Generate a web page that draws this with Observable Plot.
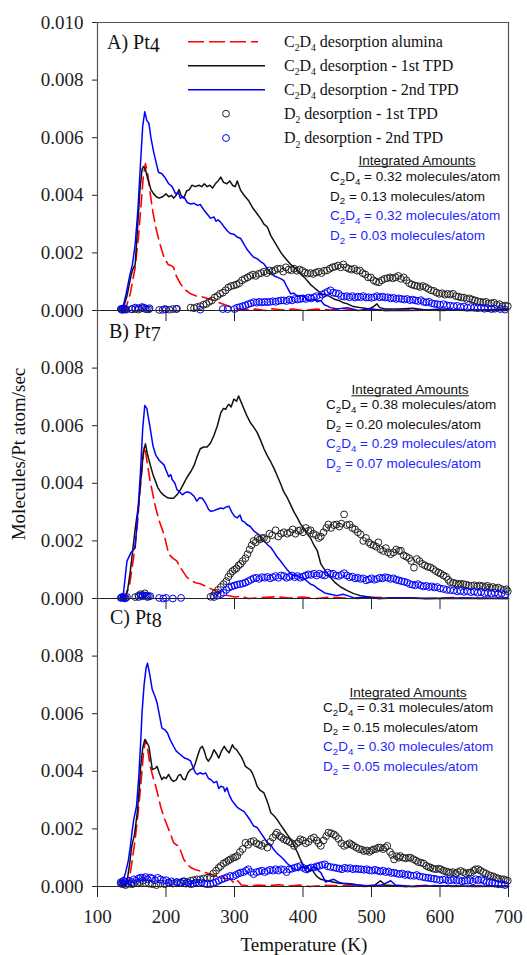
<!DOCTYPE html>
<html><head><meta charset="utf-8">
<script src="https://cdn.jsdelivr.net/npm/d3@7"></script>
<script src="https://cdn.jsdelivr.net/npm/@observablehq/plot@0.6"></script>
<style>
html,body{margin:0;padding:0;background:#fff;}
#chart{position:relative;width:527px;height:955px;overflow:hidden;background:#fff;}
#chart svg{position:absolute;left:0;top:0;}
</style></head><body><div id="chart"></div>
<script>
// ---------------- DATA (values in units of 0.001 molecules/Pt atom/sec) ----------------
const xTickValues = [100, 200, 300, 400, 500, 600, 700];
const yTicksA = [0, 0.002, 0.004, 0.006, 0.008, 0.010];
const yTicksBC = [0, 0.002, 0.004, 0.006, 0.008];
const panelNames = ["A) Pt", "B) Pt", "C) Pt"];
const panelSubs = ["4", "7", "8"];
const legendLabels = ["C_2D_4 desorption alumina", "C_2D_4 desorption - 1st TPD", "C_2D_4 desorption - 2nd TPD", "D_2 desorption - 1st TPD", "D_2 desorption - 2nd TPD"];
const intTitle = "Integrated Amounts";
const intSpecies = ["C_2D_4", "D_2", "C_2D_4", "D_2"];
const intA = ["0.32", "0.13", "0.32", "0.03"];
const intB = ["0.38", "0.20", "0.29", "0.07"];
const intC = ["0.31", "0.15", "0.30", "0.05"];

// Panel A
const A_red_e3 = [[135,0],[141,0.05],[148,0.6],[155,1.5],[160,2.6],[164,3.8],[167,4.7],[170,5.1],[173,4.8],[177,4.05],[181,3.4],[185,2.9],[190,2.4],[197,1.85],[203,1.6],[208,1.55],[211,1.5],[215,1.2],[221,0.93],[228,0.72],[236,0.58],[245,0.5],[255,0.46],[262,0.4],[270,0.35],[280,0.25],[289,0.17],[300,0.08],[315,0.03],[330,0.05],[345,0.0],[355,0.06],[370,0.02],[385,0.05],[400,0.0],[420,0.05],[440,0.02],[460,0.06],[480,0.0],[500,0.04],[520,0.0],[560,0.03],[600,0.0],[640,0.02],[680,0.0],[700,0.03]];
const A_blackLine_e3 = [[133,0],[138,0.1],[143,0.5],[148,1.1],[151,1.4],[155,1.6],[158,2.7],[162,4.2],[165,4.9],[167,5.0],[170,4.9],[173,4.6],[175,4.45],[178,4.2],[182,4.05],[186,3.95],[190,3.9],[195,3.95],[200,4.05],[204,3.95],[208,4.0],[211,3.9],[215,4.0],[219,4.2],[222,4.0],[226,3.9],[230,4.15],[234,4.2],[238,4.35],[243,4.3],[248,4.35],[252,4.3],[256,4.4],[260,4.3],[264,4.35],[268,4.25],[272,4.4],[276,4.5],[280,4.63],[284,4.45],[289,4.4],[293,4.5],[297,4.35],[301,4.3],[304,4.5],[307,4.3],[309,4.17],[314,4.0],[321,3.8],[327,3.55],[333,3.36],[338,3.2],[343,3.0],[348,2.9],[353,2.6],[358,2.4],[363,2.2],[368,2.0],[373,1.85],[377,1.74],[382,1.6],[387,1.5],[392,1.4],[397,1.25],[402,1.15],[406,1.04],[411,0.9],[416,0.8],[421,0.7],[426,0.58],[432,0.55],[438,0.5],[445,0.4],[452,0.35],[458,0.28],[465,0.23],[472,0.15],[478,0.12],[484,0.1],[490,0.08],[496,0.05],[502,0.12],[508,0.23],[512,0.1],[520,0.05],[540,0.05],[560,0.08],[580,0.02],[600,0.05],[640,0.0],[700,0.05]];
const A_blueLine_e3 = [[133,0],[137,0.1],[142,0.6],[147,1.2],[151,1.6],[155,2.3],[159,3.5],[163,5.2],[166,6.4],[169,6.9],[172,6.6],[175,6.5],[178,6.0],[182,5.5],[186,5.1],[189,4.8],[194,4.75],[199,4.6],[204,4.4],[209,4.3],[214,4.05],[218,4.1],[221,3.9],[226,3.95],[231,3.75],[236,3.7],[241,3.72],[246,3.65],[250,3.68],[255,3.5],[260,3.35],[265,3.2],[270,3.25],[273,3.1],[276,3.15],[280,3.06],[285,2.9],[290,2.75],[294,2.67],[299,2.65],[304,2.55],[309,2.5],[314,2.3],[319,2.1],[324,1.95],[328,1.85],[333,1.8],[338,1.7],[343,1.62],[348,1.45],[353,1.33],[358,1.2],[363,1.15],[368,1.1],[372,1.04],[377,0.8],[382,0.58],[387,0.6],[392,0.5],[396,0.52],[401,0.5],[406,0.38],[411,0.35],[416,0.4],[421,0.3],[426,0.35],[431,0.2],[436,0.15],[440,0.1],[450,0.05],[465,0.1],[480,0.0],[500,0.05],[520,0.0],[550,0.0],[600,0.02],[650,0.0],[700,0.0]];
const A_blackDots_e3 = [[135,0.05],[137,0.05],[139,0.03],[141,0.05],[150,0.04],[155,0.05],[160,0.03],[165,0.08],[170,0.05],[175,0.04],[190,0.02],[198,0.05],[205,0.03],[210,0.05],[216,0.06],[236,0.1],[241,0.08],[245,0.12],[250,0.15],[255,0.2],[259,0.23],[263,0.3],[267,0.35],[271,0.45],[275,0.5],[279,0.58],[283,0.62],[287,0.7],[291,0.8],[295,0.85],[299,0.87],[303,0.9],[307,0.95],[311,1.05],[315,1.1],[319,1.15],[323,1.2],[327,1.25],[331,1.2],[335,1.27],[339,1.3],[343,1.35],[347,1.3],[351,1.39],[355,1.35],[359,1.4],[363,1.45],[367,1.45],[371,1.35],[375,1.5],[379,1.42],[383,1.4],[387,1.45],[391,1.38],[395,1.42],[399,1.38],[403,1.32],[407,1.28],[411,1.3],[415,1.27],[419,1.32],[423,1.35],[427,1.3],[431,1.38],[435,1.39],[439,1.45],[443,1.5],[447,1.52],[451,1.56],[455,1.5],[459,1.6],[463,1.5],[467,1.45],[471,1.42],[475,1.45],[479,1.38],[483,1.39],[487,1.3],[491,1.25],[495,1.15],[499,1.15],[503,1.05],[507,1.0],[511,0.98],[515,1.05],[519,1.1],[523,1.12],[527,1.15],[531,1.12],[535,1.15],[539,1.2],[543,1.1],[547,1.15],[551,1.05],[555,0.95],[559,0.9],[563,0.87],[567,0.85],[571,0.82],[575,0.85],[579,0.81],[583,0.75],[587,0.7],[591,0.68],[595,0.62],[599,0.58],[603,0.6],[607,0.55],[611,0.58],[615,0.55],[619,0.58],[623,0.5],[627,0.48],[631,0.45],[635,0.45],[639,0.4],[643,0.42],[647,0.38],[651,0.35],[655,0.32],[659,0.3],[663,0.28],[667,0.3],[671,0.25],[675,0.25],[679,0.27],[683,0.2],[687,0.22],[691,0.15],[695,0.17],[699,0.15]];
const A_blueDots_e3 = [[134,0.05],[136,0.02],[138,0.08],[140,0.05],[142,0.03],[150,0.05],[155,0.1],[160,0.08],[165,0.12],[168,0.1],[172,0.05],[176,0.08],[195,0.02],[200,0.04],[215,0.05],[250,0.03],[283,0.05],[290,0.05],[300,0.05],[304,0.1],[308,0.12],[312,0.15],[316,0.18],[320,0.22],[324,0.25],[328,0.29],[332,0.27],[336,0.3],[340,0.28],[344,0.3],[348,0.29],[352,0.3],[356,0.32],[360,0.3],[364,0.33],[368,0.35],[372,0.35],[376,0.33],[380,0.38],[384,0.35],[388,0.4],[392,0.38],[396,0.4],[400,0.42],[404,0.4],[408,0.45],[412,0.42],[416,0.46],[420,0.5],[424,0.45],[428,0.55],[432,0.6],[436,0.65],[440,0.7],[444,0.62],[448,0.6],[452,0.58],[456,0.5],[460,0.48],[464,0.5],[468,0.46],[472,0.5],[476,0.45],[480,0.48],[484,0.46],[488,0.5],[492,0.45],[496,0.46],[500,0.44],[504,0.46],[508,0.5],[512,0.46],[516,0.48],[520,0.45],[524,0.46],[528,0.42],[532,0.44],[536,0.4],[540,0.42],[544,0.4],[548,0.38],[552,0.4],[556,0.36],[560,0.38],[564,0.35],[568,0.33],[572,0.36],[576,0.3],[580,0.28],[584,0.3],[588,0.25],[592,0.23],[596,0.22],[600,0.2],[605,0.22],[610,0.18],[615,0.17],[620,0.15],[625,0.16],[630,0.12],[635,0.14],[640,0.1],[645,0.12],[650,0.1],[655,0.08],[660,0.1],[665,0.06],[670,0.08],[675,0.05],[680,0.06],[688,0.05],[695,0.03]];

// Panel B
const B_red_e3 = [[135,0],[141,0.05],[147,0.5],[153,1.47],[158,2.5],[163,4.0],[167,5.0],[169,5.3],[172,4.8],[177,4.05],[181,3.6],[185,3.14],[190,2.7],[197,2.23],[204,1.54],[210,1.4],[216,1.3],[220,1.1],[224,0.97],[230,0.75],[236,0.63],[243,0.55],[250,0.51],[260,0.4],[270,0.29],[280,0.2],[289,0.11],[300,0.05],[310,0.08],[320,0.0],[340,0.03],[360,0.06],[380,0.02],[400,0.05],[420,0.0],[440,0.05],[460,0.02],[480,0.0],[500,0.04],[540,0.02],[580,0.0],[620,0.03],[660,0.0],[700,0.02]];
const B_blackLine_e3 = [[135,0],[140,0.05],[144,0.3],[148,0.96],[152,1.8],[156,2.6],[160,3.26],[164,4.3],[167,5.1],[170,5.37],[173,5.0],[177,4.64],[181,4.3],[185,4.05],[188,3.85],[192,3.7],[197,3.58],[202,3.5],[206,3.48],[211,3.48],[216,3.6],[221,3.77],[226,4.0],[231,4.22],[236,4.4],[241,4.62],[245,4.9],[250,5.2],[255,5.26],[260,5.26],[265,5.4],[270,5.66],[275,6.0],[280,6.45],[284,6.6],[287,6.57],[290,6.7],[292,6.74],[295,6.65],[299,6.92],[303,6.85],[306,7.03],[310,6.8],[314,6.57],[318,6.35],[323,6.11],[328,5.95],[333,5.77],[338,5.5],[343,5.2],[348,4.95],[353,4.74],[358,4.5],[362,4.28],[367,4.0],[372,3.7],[377,3.5],[382,3.25],[387,3.0],[392,2.79],[396,2.6],[401,2.45],[406,2.25],[411,2.1],[416,1.85],[421,1.65],[426,1.2],[433,0.95],[440,0.74],[447,0.55],[455,0.4],[464,0.28],[474,0.17],[484,0.1],[494,0.06],[510,0.0],[540,0.02],[580,0.0],[700,0.0]];
const B_blueLine_e3 = [[133,0],[138,0.2],[143,1.3],[149,1.6],[155,1.76],[159,3.0],[163,4.5],[166,5.9],[169,6.7],[172,6.6],[177,5.9],[181,5.3],[185,4.98],[190,4.8],[197,4.64],[201,4.4],[204,4.23],[207,4.3],[209,4.13],[213,4.0],[216,3.78],[220,3.7],[224,3.6],[228,3.68],[232,3.7],[236,3.66],[241,3.55],[245,3.38],[249,3.5],[253,3.48],[258,3.3],[262,3.1],[265,3.03],[270,3.05],[275,3.1],[280,3.14],[284,3.12],[288,3.18],[292,3.2],[296,3.0],[300,2.85],[304,2.8],[308,2.9],[311,2.7],[315,2.65],[318,2.57],[323,2.5],[328,2.35],[335,2.23],[340,2.05],[345,1.95],[349,1.85],[353,1.77],[358,1.6],[362,1.45],[367,1.31],[372,1.15],[377,1.0],[382,0.86],[387,0.8],[392,0.78],[396,0.74],[401,0.7],[406,0.6],[411,0.5],[416,0.45],[421,0.35],[426,0.28],[431,0.2],[435,0.17],[440,0.15],[450,0.1],[458,0.15],[465,0.1],[475,0.02],[490,0.05],[510,0.0],[540,0.03],[580,0.0],[640,0.02],[700,0.0]];
const B_blackDots_e3 = [[135,0.03],[138,0.05],[141,0.02],[155,0.05],[160,0.1],[163,0.15],[166,0.12],[169,0.18],[172,0.1],[175,0.08],[265,0.06],[269,0.1],[272,0.2],[276,0.3],[280,0.4],[284,0.5],[288,0.6],[291,0.75],[294,0.86],[297,0.95],[300,1.0],[303,1.05],[306,1.15],[309,1.2],[312,1.3],[316,1.4],[319,1.54],[322,1.7],[325,1.85],[328,2.0],[331,1.95],[334,2.1],[337,2.05],[340,2.1],[343,2.1],[347,2.05],[351,2.25],[355,2.2],[360,2.37],[364,2.15],[368,2.25],[372,2.3],[377,2.25],[381,2.3],[385,2.4],[389,2.25],[393,2.35],[396,2.37],[400,2.3],[404,2.45],[408,2.35],[411,2.37],[415,2.25],[419,2.2],[423,2.1],[426,2.15],[430,2.3],[434,2.45],[437,2.57],[441,2.45],[445,2.55],[449,2.57],[453,2.5],[456,2.6],[460,2.92],[464,2.55],[468,2.57],[472,2.45],[476,2.4],[480,2.3],[484,2.23],[488,2.0],[492,2.1],[496,1.95],[499,1.88],[503,1.85],[507,1.8],[510,1.95],[513,1.71],[517,1.65],[521,1.75],[524,1.6],[528,1.54],[532,1.6],[536,1.7],[540,1.65],[543,1.66],[547,1.5],[551,1.45],[555,1.4],[558,1.3],[562,1.07],[566,1.37],[570,1.3],[574,1.2],[578,1.15],[582,1.1],[586,1.08],[590,1.02],[594,0.95],[598,0.9],[601,0.86],[605,0.8],[609,0.75],[612,0.65],[615,0.57],[619,0.55],[623,0.52],[627,0.5],[630,0.51],[634,0.5],[638,0.48],[642,0.45],[646,0.44],[650,0.46],[654,0.42],[658,0.45],[662,0.43],[666,0.4],[669,0.44],[673,0.38],[677,0.4],[681,0.35],[685,0.38],[689,0.33],[693,0.3],[697,0.32],[699,0.25]];
const B_blueDots_e3 = [[134,0.02],[136,0.05],[138,0.03],[140,0.0],[143,0.05],[160,0.05],[163,0.1],[166,0.08],[170,0.1],[173,0.05],[177,0.08],[190,0.02],[196,0.0],[200,0.02],[210,0.0],[222,0.02],[270,0.05],[275,0.1],[280,0.15],[284,0.2],[288,0.3],[292,0.38],[296,0.42],[300,0.45],[304,0.48],[308,0.5],[312,0.52],[316,0.55],[320,0.6],[324,0.65],[328,0.7],[332,0.72],[336,0.68],[340,0.74],[344,0.72],[348,0.75],[352,0.7],[356,0.74],[360,0.78],[364,0.72],[368,0.8],[372,0.78],[376,0.72],[380,0.75],[384,0.8],[388,0.74],[392,0.78],[396,0.72],[400,0.76],[404,0.8],[408,0.84],[412,0.82],[416,0.86],[420,0.8],[424,0.86],[428,0.82],[432,0.8],[436,0.9],[440,0.85],[444,0.86],[448,0.8],[452,0.78],[456,0.82],[460,0.88],[464,0.8],[468,0.74],[472,0.76],[476,0.7],[480,0.72],[484,0.68],[488,0.7],[492,0.63],[496,0.66],[500,0.7],[504,0.65],[508,0.68],[512,0.72],[516,0.7],[520,0.74],[524,0.72],[528,0.68],[532,0.7],[536,0.65],[540,0.63],[544,0.6],[548,0.58],[552,0.55],[556,0.5],[560,0.48],[564,0.46],[568,0.5],[572,0.45],[576,0.42],[580,0.44],[584,0.4],[588,0.42],[592,0.38],[596,0.4],[600,0.35],[605,0.33],[610,0.3],[615,0.29],[620,0.28],[625,0.25],[630,0.26],[635,0.23],[640,0.25],[645,0.22],[650,0.24],[655,0.2],[660,0.22],[665,0.18],[670,0.2],[675,0.17],[680,0.2],[685,0.16],[690,0.18],[695,0.14]];

// Panel C
const C_red_e3 = [[135,0],[141,0.05],[146,0.2],[150,0.8],[155,1.64],[159,2.5],[163,3.48],[167,4.6],[170,5.1],[173,4.8],[177,4.17],[181,3.8],[185,3.48],[189,3.1],[192,2.79],[197,2.4],[202,2.1],[207,1.8],[211,1.52],[215,1.45],[219,1.4],[222,1.2],[226,0.94],[231,0.78],[236,0.66],[243,0.58],[250,0.54],[258,0.48],[265,0.43],[272,0.38],[280,0.31],[287,0.28],[294,0.25],[300,0.1],[305,0.2],[310,0.05],[320,0.02],[335,0.05],[350,0.03],[365,0.06],[380,0.02],[395,0.05],[410,0.0],[430,0.04],[450,0.02],[470,0.05],[490,0.0],[510,0.03],[550,0.0],[580,0.04],[620,0.0],[660,0.03],[700,0.0]];
const C_blackLine_e3 = [[133,0],[138,0.05],[143,0.14],[147,0.8],[150,1.4],[154,1.8],[158,2.56],[161,3.4],[163,4.17],[166,4.8],[169,5.1],[172,5.0],[175,4.87],[178,4.4],[180,4.06],[184,4.1],[187,4.17],[190,3.95],[194,3.71],[197,3.8],[200,3.75],[204,3.89],[208,3.7],[211,3.65],[215,3.7],[218,3.85],[221,3.89],[225,3.72],[228,3.71],[232,3.95],[236,4.06],[240,4.1],[243,4.29],[247,4.6],[250,4.8],[253,4.87],[256,4.7],[259,4.45],[262,4.35],[266,4.5],[270,4.75],[274,4.6],[277,4.46],[281,4.7],[285,4.87],[288,4.75],[292,4.64],[295,4.8],[297,4.92],[300,4.8],[303,4.75],[306,4.64],[310,4.5],[313,4.35],[316,4.17],[320,4.1],[323,4.05],[326,3.94],[330,3.7],[333,3.48],[337,3.35],[340,3.3],[343,3.25],[347,3.0],[350,2.8],[353,2.56],[358,2.45],[362,2.33],[367,2.15],[372,1.98],[377,1.8],[382,1.64],[387,1.4],[392,1.18],[396,0.95],[401,0.71],[404,0.6],[406,0.7],[409,0.55],[413,0.6],[416,0.48],[420,0.35],[426,0.25],[435,0.2],[445,0.15],[455,0.1],[465,0.1],[474,0.08],[490,0.02],[505,0.05],[513,0.2],[520,0.05],[550,0.0],[600,0.02],[700,0.0]];
const C_blueLine_e3 = [[133,0],[137,0.2],[141,0.48],[145,0.9],[148,1.4],[151,2.0],[153,2.33],[157,2.8],[160,3.71],[163,5.0],[165,6.03],[168,7.0],[171,7.6],[173,7.75],[176,7.4],[180,6.83],[184,6.6],[187,6.37],[190,6.0],[194,5.5],[198,5.45],[202,5.34],[206,5.1],[211,4.87],[215,4.7],[220,4.6],[224,4.52],[228,4.45],[232,4.42],[236,4.35],[240,4.1],[243,3.95],[246,3.89],[250,3.95],[254,3.9],[258,3.94],[262,3.75],[266,3.7],[270,3.6],[274,3.65],[277,3.4],[280,3.48],[284,3.45],[286,3.3],[289,3.43],[292,3.2],[296,3.0],[299,2.9],[304,2.75],[309,2.67],[314,2.6],[319,2.44],[323,2.3],[328,2.1],[333,2.05],[338,1.87],[343,1.7],[348,1.52],[353,1.45],[357,1.29],[362,1.15],[367,1.05],[372,0.94],[377,0.8],[382,0.7],[387,0.6],[393,0.55],[399,0.71],[403,0.6],[406,0.48],[411,0.6],[416,0.71],[420,0.6],[426,0.48],[430,0.3],[433,0.15],[438,0.2],[445,0.25],[452,0.15],[460,0.1],[469,0.08],[480,0.05],[500,0.02],[515,0.05],[528,0.2],[535,0.05],[560,0.0],[600,0.03],[650,0.0],[700,0.02]];
const C_blackDots_e3 = [[134,0.1],[136,0.15],[138,0.08],[141,0.05],[145,0.1],[150,0.08],[153,0.1],[158,0.12],[162,0.15],[166,0.2],[170,0.12],[175,0.1],[180,0.08],[186,0.05],[192,0.1],[198,0.08],[204,0.12],[210,0.1],[216,0.15],[222,0.12],[227,0.18],[231,0.15],[236,0.2],[240,0.22],[245,0.25],[250,0.25],[255,0.28],[260,0.3],[265,0.31],[269,0.45],[273,0.55],[277,0.65],[280,0.71],[284,0.8],[288,0.85],[291,0.9],[294,0.94],[298,1.0],[301,1.02],[304,1.06],[308,1.2],[312,1.3],[316,1.52],[320,1.45],[324,1.55],[328,1.58],[332,1.5],[336,1.45],[340,1.41],[344,1.5],[348,1.35],[352,1.55],[356,1.7],[360,1.8],[362,1.87],[366,1.75],[369,1.7],[372,1.64],[376,1.6],[380,1.55],[384,1.5],[387,1.41],[391,1.5],[394,1.55],[396,1.64],[400,1.6],[404,1.5],[408,1.55],[412,1.65],[416,1.7],[420,1.6],[423,1.5],[426,1.41],[430,1.6],[434,1.75],[437,1.87],[441,1.85],[445,1.81],[448,1.75],[452,1.65],[456,1.5],[460,1.41],[464,1.45],[468,1.5],[471,1.45],[474,1.41],[478,1.35],[482,1.3],[486,1.28],[489,1.23],[493,1.25],[497,1.2],[500,1.25],[503,1.29],[507,1.3],[510,1.35],[513,1.35],[517,1.3],[520,1.35],[523,1.41],[527,1.2],[530,1.1],[533,0.94],[537,1.05],[540,1.0],[542,1.06],[546,1.0],[550,0.98],[554,1.0],[557,1.0],[561,0.95],[565,0.9],[568,0.85],[572,0.83],[576,0.8],[580,0.72],[583,0.68],[586,0.66],[590,0.62],[594,0.6],[598,0.62],[601,0.6],[605,0.55],[609,0.52],[612,0.5],[615,0.48],[619,0.5],[623,0.45],[626,0.5],[630,0.54],[634,0.5],[638,0.45],[642,0.48],[645,0.48],[649,0.55],[652,0.6],[656,0.6],[659,0.55],[663,0.5],[667,0.45],[671,0.4],[674,0.37],[678,0.35],[682,0.3],[685,0.28],[689,0.25],[693,0.25],[696,0.22],[699,0.2]];
const C_blueDots_e3 = [[134,0.15],[136,0.1],[138,0.2],[140,0.15],[143,0.1],[146,0.2],[150,0.15],[153,0.25],[156,0.2],[160,0.28],[163,0.31],[166,0.3],[170,0.33],[173,0.25],[177,0.31],[180,0.28],[184,0.22],[188,0.3],[192,0.25],[196,0.2],[200,0.22],[204,0.14],[208,0.18],[212,0.12],[216,0.15],[221,0.14],[225,0.18],[229,0.1],[233,0.12],[236,0.08],[240,0.1],[244,0.14],[248,0.12],[252,0.14],[256,0.1],[260,0.08],[265,0.08],[269,0.12],[273,0.15],[277,0.2],[281,0.25],[285,0.28],[289,0.32],[294,0.37],[298,0.35],[302,0.4],[306,0.45],[309,0.48],[313,0.5],[317,0.55],[320,0.6],[324,0.5],[328,0.43],[332,0.5],[336,0.52],[340,0.55],[344,0.5],[348,0.54],[352,0.58],[356,0.55],[360,0.6],[364,0.55],[368,0.6],[372,0.58],[376,0.5],[380,0.6],[384,0.62],[388,0.65],[392,0.68],[396,0.71],[400,0.65],[404,0.6],[408,0.62],[412,0.66],[416,0.66],[420,0.7],[424,0.72],[428,0.75],[432,0.77],[436,0.7],[440,0.68],[445,0.66],[449,0.64],[453,0.62],[457,0.6],[461,0.65],[465,0.62],[469,0.64],[473,0.6],[477,0.62],[481,0.6],[485,0.6],[489,0.58],[493,0.6],[497,0.56],[501,0.55],[505,0.58],[509,0.55],[513,0.52],[517,0.55],[521,0.5],[525,0.52],[529,0.47],[533,0.48],[537,0.45],[541,0.43],[545,0.45],[549,0.4],[553,0.42],[557,0.38],[562,0.37],[566,0.4],[570,0.35],[575,0.33],[579,0.31],[583,0.3],[587,0.28],[591,0.27],[595,0.25],[600,0.22],[604,0.24],[608,0.25],[612,0.2],[616,0.22],[620,0.25],[624,0.2],[628,0.22],[632,0.18],[636,0.2],[640,0.2],[644,0.22],[648,0.18],[652,0.25],[656,0.22],[660,0.25],[664,0.2],[668,0.15],[672,0.14],[676,0.12],[680,0.1],[685,0.08],[690,0.08],[695,0.05]];

// ---------------- LAYOUT ----------------
const W = 527, H = 955, ML = 97, MR = 19;
const RED = "#ff0000", BLUE = "#0000ff", BLACK = "#111111";
const SERIF = "Liberation Serif, Times New Roman, serif";
const SANS = "Liberation Sans, Arial, sans-serif";

const panels = [
  {top: 22, bottom: 310, yTicks: yTicksA, showX: false, red: A_red_e3, bl: A_blackLine_e3, bu: A_blueLine_e3, bd: A_blackDots_e3, ud: A_blueDots_e3},
  {top: 310, bottom: 598, yTicks: yTicksBC, showX: false, red: B_red_e3, bl: B_blackLine_e3, bu: B_blueLine_e3, bd: B_blackDots_e3, ud: B_blueDots_e3},
  {top: 598, bottom: 886, yTicks: yTicksBC, showX: true, red: C_red_e3, bl: C_blackLine_e3, bu: C_blueLine_e3, bd: C_blackDots_e3, ud: C_blueDots_e3}
];

const X = d => d[0];
const Y = d => d[1] / 1000;
const chart = document.getElementById("chart");

panels.forEach((p, i) => {
  const svg = Plot.plot({
    width: W, height: H,
    marginLeft: ML, marginRight: MR, marginTop: p.top, marginBottom: H - p.bottom,
    style: {background: "transparent", fontFamily: SERIF, fontSize: "19px", color: "#222"},
    x: {domain: [100, 700], ticks: xTickValues, tickSize: 11, tickPadding: 12,
        tickFormat: p.showX ? d3.format("d") : () => "", label: null},
    y: {domain: [0, 0.010], ticks: p.yTicks, tickSize: 5, tickPadding: 9,
        tickFormat: d3.format(".3f"), label: null},
    marks: [
      Plot.ruleX([100, 700], {stroke: "#555", strokeWidth: 1.2}),
      i === 0 ? Plot.ruleY([0.010], {stroke: "#555", strokeWidth: 1.2}) : null,
      Plot.line(p.red, {x: X, y: Y, stroke: RED, strokeWidth: 1.6, strokeDasharray: "12,6"}),
      Plot.line(p.bl, {x: X, y: Y, stroke: BLACK, strokeWidth: 1.5}),
      Plot.line(p.bu, {x: X, y: Y, stroke: BLUE, strokeWidth: 1.5}),
      Plot.dot(p.bd, {x: X, y: Y, r: 3.4, stroke: "#222", strokeWidth: 1, fill: "none"}),
      Plot.dot(p.ud, {x: X, y: Y, r: 3.4, stroke: BLUE, strokeWidth: 1, fill: "none"}),
      Plot.ruleY([0], {stroke: "#222", strokeWidth: 1.2})
    ].filter(Boolean)
  });
  // drop the empty tick-label texts of the upper panels (ticks stay)
  d3.select(svg).selectAll("text").filter(function () { return this.textContent === ""; }).remove();
  chart.appendChild(svg);
});

// ---------------- ANNOTATION OVERLAY (legend, labels, titles) ----------------
const ov = d3.select(chart).append("svg").attr("width", W).attr("height", H);

function rich(x, y, str, o) {
  const t = ov.append("text").attr("x", x).attr("y", y)
    .attr("font-family", o.font).attr("font-size", o.size)
    .attr("fill", o.fill || "#111").attr("text-anchor", o.anchor || "start");
  const subSize = o.size * (o.subScale || 0.62), shift = o.size * (o.subShift || 0.25);
  let buf = "", pending = 0;
  const flush = () => {
    if (buf) {
      const s = t.append("tspan").text(buf);
      if (pending) s.attr("dy", pending);
      pending = 0; buf = "";
    }
  };
  for (let k = 0; k < str.length; k++) {
    if (str[k] === "_" && k + 1 < str.length) {
      flush();
      t.append("tspan").attr("dy", shift + pending).attr("font-size", subSize).text(str[k + 1]);
      pending = -shift;
      k++;
    } else buf += str[k];
  }
  flush();
  return t;
}

// panel labels
const labelPos = [[107, 49], [109, 338], [110, 624]];
labelPos.forEach(([x, y], i) => {
  const t = ov.append("text").attr("x", x).attr("y", y).attr("font-family", SERIF)
    .attr("font-size", 20).attr("fill", "#111");
  t.append("tspan").text(panelNames[i]);
  t.append("tspan").attr("dy", 3).text(panelSubs[i]);
});

// legend (panel A)
const legY = [46.5, 70.5, 94.5, 118.5, 142.8];
const legStyles = [
  {type: "line", stroke: RED, dash: "16,5", x2: 258},
  {type: "line", stroke: BLACK, x2: 265},
  {type: "line", stroke: BLUE, x2: 265},
  {type: "dot", stroke: "#222"},
  {type: "dot", stroke: BLUE}
];
legendLabels.forEach((lab, i) => {
  const s = legStyles[i], cy = legY[i] - 4.8;
  if (s.type === "line") {
    ov.append("line").attr("x1", 188).attr("x2", s.x2).attr("y1", cy).attr("y2", cy)
      .attr("stroke", s.stroke).attr("stroke-width", 1.6).attr("stroke-dasharray", s.dash || null);
  } else {
    ov.append("circle").attr("cx", 226).attr("cy", cy).attr("r", 3.4)
      .attr("fill", "none").attr("stroke", s.stroke).attr("stroke-width", 1);
  }
  rich(284, legY[i], lab, {font: SERIF, size: 16, fill: "#111", subScale: 0.6, subShift: 0.3});
});

// integrated amounts
const intBoxes = [
  {vals: intA, left: 330, cx: 417, tb: 164.5, r0: 181},
  {vals: intB, left: 326, cx: 410, tb: 394, r0: 409},
  {vals: intC, left: 323, cx: 408, tb: 697, r0: 712}
];
intBoxes.forEach(b => {
  const tt = ov.append("text").attr("x", b.cx).attr("y", b.tb).attr("text-anchor", "middle")
    .attr("font-family", SANS).attr("font-size", 13.5).attr("fill", "#111").text(intTitle);
  const bb = tt.node().getBBox();
  ov.append("line").attr("x1", bb.x).attr("x2", bb.x + bb.width).attr("y1", b.tb + 1.8).attr("y2", b.tb + 1.8)
    .attr("stroke", "#111").attr("stroke-width", 1);
  b.vals.forEach((v, j) => {
    rich(b.left, b.r0 + j * 19.6, intSpecies[j] + " = " + v + " molecules/atom",
      {font: SANS, size: 13.5, fill: j < 2 ? "#111" : "#1f1fff", subScale: 0.72, subShift: 0.28});
  });
});

// axis titles
ov.append("text").attr("x", 304).attr("y", 951).attr("text-anchor", "middle")
  .attr("font-family", SERIF).attr("font-size", 19).attr("fill", "#111").text("Temperature (K)");
ov.append("text").attr("transform", "translate(24.5,454) rotate(-90)").attr("text-anchor", "middle")
  .attr("font-family", SERIF).attr("font-size", 19).attr("fill", "#111").text("Molecules/Pt atom/sec");
</script>
</body></html>
